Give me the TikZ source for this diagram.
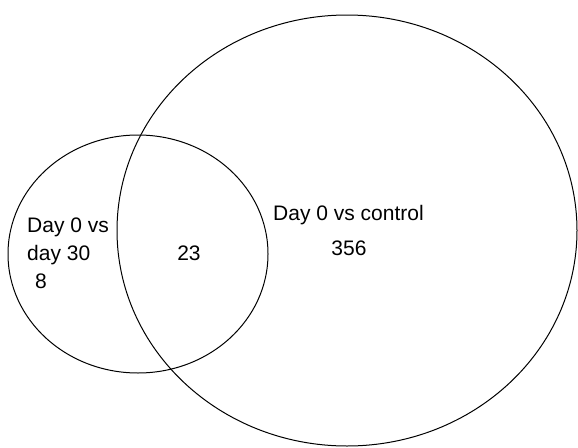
\documentclass[tikz,border=0pt]{standalone}
\usepackage{fontspec}
\setmainfont{Liberation Sans}
\begin{document}
\begin{tikzpicture}[x=1pt,y=-1pt,
  venn/.style={draw=black,line width=1pt},
  lbl/.style={inner sep=0pt,font=\fontsize{21}{25}\selectfont}]
\useasboundingbox (0,0) rectangle (578,447);
\draw[venn] (138,254) ellipse [x radius=130pt, y radius=119pt];
\draw[venn] (347,230.5) ellipse [x radius=230pt, y radius=215.5pt];
\node[lbl,anchor=base west] (a1) at (27,232) {Day 0 vs};
\node[lbl,anchor=base west] (a2) at (27,260) {day 30};
\node[lbl,anchor=base] (a3) at (41,288) {8};
\node[lbl,anchor=base] (b) at (189,260) {23};
\node[lbl,anchor=base west] (c1) at (273,220) {Day 0 vs control};
\node[lbl,anchor=base] (c2) at (349,255) {356};
\end{tikzpicture}
\end{document}
